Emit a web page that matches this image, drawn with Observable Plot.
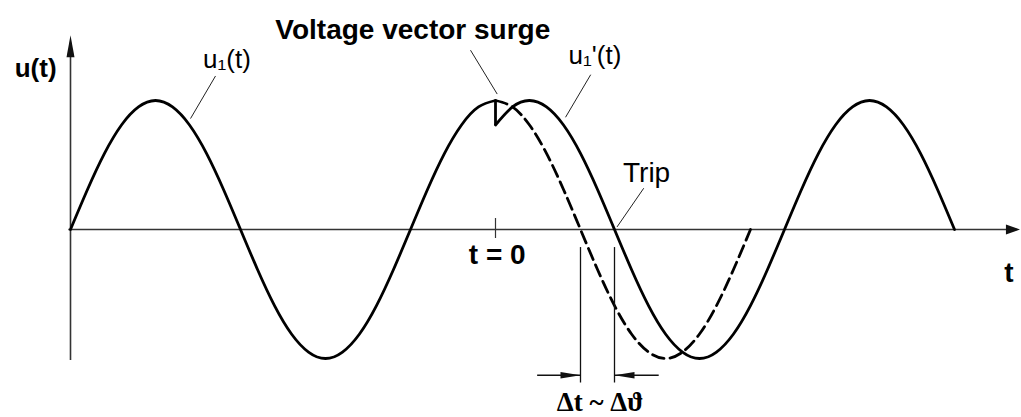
<!DOCTYPE html>
<html>
<head>
<meta charset="utf-8">
<script src="https://cdn.jsdelivr.net/npm/d3@7"></script>
<script src="https://cdn.jsdelivr.net/npm/@observablehq/plot@0.6"></script>
<style>
  html, body { margin: 0; padding: 0; background: #fff; }
</style>
</head>
<body>
<div id="chart"></div>
<script>
// Time in ms (50 Hz system, 20 ms period); voltage in per-unit of the peak value.

// Supply voltage u1(t) up to the surge instant t = 0
const tBefore = [-25,-24,-23,-22,-21,-20,-19,-18,-17,-16,-15,-14,-13,-12,-11,-10,-9,-8,-7,-6,-5,-4,-3,-2,-1,0];
const uBefore = [0,0.31,0.59,0.81,0.95,1,0.95,0.81,0.59,0.31,0,-0.31,-0.59,-0.81,-0.95,-1,-0.95,-0.81,-0.59,-0.31,0,0.31,0.59,0.81,0.95,1];

// Undisturbed continuation of u1(t) after t = 0 (dashed)
const tDashed = [0,1,2,3,4,5,6,7,8,9,10,11,12,13,14,15];
const uDashed = [1,0.95,0.81,0.59,0.31,0,-0.31,-0.59,-0.81,-0.95,-1,-0.95,-0.81,-0.59,-0.31,0];

// Phase-shifted voltage u1'(t) after the vector surge
const tAfter = [0,1,2,3,4,5,6,7,8,9,10,11,12,13,14,15,16,17,18,19,20,21,22,23,24,25,26,27];
const uAfter = [0.81,0.95,1,0.95,0.81,0.59,0.31,0,-0.31,-0.59,-0.81,-0.95,-1,-0.95,-0.81,-0.59,-0.31,0,0.31,0.59,0.81,0.95,1,0.95,0.81,0.59,0.31,0];

// Zero crossings that bound the time shift Δt
const shiftStart = 5;   // falling zero of u1(t)
const shiftEnd = 7;     // falling zero of u1'(t)

// Label texts
const labelTexts = ["u(t)", "u\u2081(t)", "Voltage vector surge", "u\u2081'(t)", "Trip", "t = 0", "t", "\u0394t ~ \u0394\u03D1"];

// ---- layout (data units: t in ms, u in p.u.) ----
const sans = "Liberation Sans, Arial, sans-serif";
const serif = "Liberation Serif, Times New Roman, serif";

const labelLayout = [
  {t: -27.05, u: 1.18,  anchor: "middle", size: 26, weight: "bold",   font: sans},
  {t: -17.2,  u: 1.255, anchor: "start",  size: 26, weight: "normal", font: sans},
  {t: -12.95, u: 1.48,  anchor: "start",  size: 28, weight: "bold",   font: sans},
  {t: 4.3,    u: 1.285, anchor: "start",  size: 26, weight: "normal", font: sans},
  {t: 7.5,    u: 0.365, anchor: "start",  size: 28, weight: "normal", font: sans},
  {t: 0.1,    u: -0.265,anchor: "middle", size: 28, weight: "bold",   font: sans},
  {t: 30.2,   u: -0.41, anchor: "middle", size: 28, weight: "bold",   font: sans},
  {t: 6.15,   u: -1.41, anchor: "middle", size: 27, weight: "bold",   font: serif}
];

const leaders = [
  {t1: -16.47, u1: 1.19, t2: -17.94, u2: 0.86},   // u1(t)
  {t1: -1.47,  u1: 1.39, t2: 0.1,    u2: 1.05},   // voltage vector surge
  {t1: 5.6,    u1: 1.2,  t2: 4.12,   u2: 0.87},   // u1'(t)
  {t1: 8.72,   u1: 0.32, t2: 7.15,   u2: 0.02}    // trip
];

const series = (ts, us) => ts.map((t, i) => ({t, u: us[i]}));

// narrow filled arrowhead, tip at the origin pointing along +x
const head = (len, half) => ({
  draw(ctx) { ctx.moveTo(0, 0); ctx.lineTo(-len, -half); ctx.lineTo(-len, half); ctx.closePath(); }
});

// one text mark per label so each keeps its own font settings
const labelMarks = labelTexts.map((text, i) => {
  const L = labelLayout[i];
  return Plot.text([{t: L.t, u: L.u, text}], {
    x: "t", y: "u", text: "text",
    textAnchor: L.anchor,
    lineAnchor: "bottom",
    fontSize: L.size,
    fontWeight: L.weight,
    fontFamily: L.font,
    fill: "#000"
  });
});

const axisColor = "#333";
const uArrow = -1.13;

const chart = Plot.plot({
  width: 1021,
  height: 417,
  margin: 0,
  style: {background: "#fff", overflow: "visible"},
  x: {domain: [-25, 27], range: [70, 954], axis: null},
  y: {domain: [-1, 1], range: [358, 100], axis: null},
  marks: [
    // axes
    Plot.ruleY([0], {x1: -25.1, x2: 30.7, stroke: axisColor, strokeWidth: 1.6}),
    Plot.ruleX([-25], {y1: -1.016, y2: 1.42, stroke: axisColor, strokeWidth: 1.6}),
    Plot.dot([{t: 30.85, u: 0}], {x: "t", y: "u", symbol: head(14, 5), fill: "#111", stroke: null}),
    Plot.dot([{t: -25, u: 1.505}], {x: "t", y: "u", symbol: head(22, 4), rotate: -90, fill: "#111", stroke: null}),
    // t = 0 tick
    Plot.ruleX([0], {y1: -0.07, y2: 0.085, stroke: axisColor, strokeWidth: 1.2}),

    // undisturbed continuation
    Plot.line(series(tDashed, uDashed), {x: "t", y: "u", curve: "natural", stroke: "#000", strokeWidth: 2.8, strokeDasharray: "12,6"}),
    // u1(t) before the surge
    Plot.line(series(tBefore, uBefore), {x: "t", y: "u", curve: "natural", stroke: "#000", strokeWidth: 2.8}),
    // the jump at t = 0
    Plot.link([{t: 0, a: uBefore[uBefore.length - 1], b: uAfter[0]}], {x1: "t", x2: "t", y1: "a", y2: "b", stroke: "#000", strokeWidth: 2.8}),
    // u1'(t) after the surge
    Plot.line(series(tAfter, uAfter), {x: "t", y: "u", curve: "natural", stroke: "#000", strokeWidth: 2.8, strokeLinejoin: "round"}),

    // leader lines
    Plot.link(leaders, {x1: "t1", y1: "u1", x2: "t2", y2: "u2", stroke: "#222", strokeWidth: 1}),

    // Δt dimension
    Plot.ruleX([shiftStart, shiftEnd], {y1: -0.14, y2: -1.19, stroke: "#111", strokeWidth: 1.3}),
    Plot.link([{a: 2.45, b: shiftStart}, {a: shiftEnd, b: 9.6}], {x1: "a", x2: "b", y1: uArrow, y2: uArrow, stroke: "#111", strokeWidth: 1.3}),
    Plot.dot([{t: shiftStart, u: uArrow}], {x: "t", y: "u", symbol: head(20, 3.2), fill: "#111", stroke: null}),
    Plot.dot([{t: shiftEnd, u: uArrow}], {x: "t", y: "u", symbol: head(20, 3.2), rotate: 180, fill: "#111", stroke: null}),

    // labels
    ...labelMarks
  ]
});

document.getElementById("chart").append(chart);
</script>
</body>
</html>
